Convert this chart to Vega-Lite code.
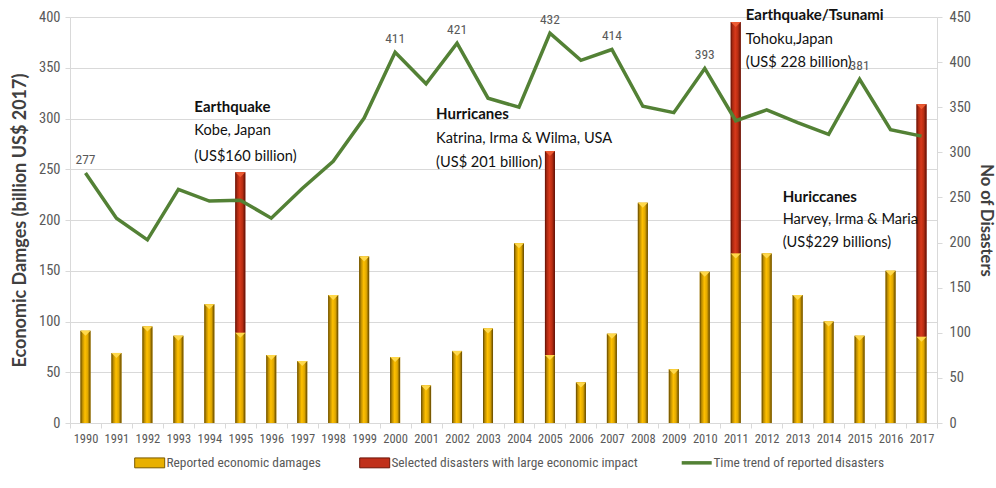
{
  "$schema": "https://vega.github.io/schema/vega-lite/v6.json",
  "width": 867,
  "height": 406,
  "autosize": {"type": "none"},
  "padding": {"left": 70, "top": 17, "right": 59, "bottom": 65},
  "background": "white",
  "config": {"view": {"stroke": null}, "font": "Liberation Sans"},
  "datasets": {
    "main": [
      {"year": "1990", "reported": 91, "disasters": 277},
      {"year": "1991", "reported": 69, "disasters": 227},
      {"year": "1992", "reported": 95, "disasters": 203},
      {"year": "1993", "reported": 86, "disasters": 259},
      {"year": "1994", "reported": 117, "disasters": 246},
      {"year": "1995", "reported": 89, "selected": 158, "disasters": 247},
      {"year": "1996", "reported": 67, "disasters": 227},
      {"year": "1997", "reported": 61, "disasters": 260},
      {"year": "1998", "reported": 126, "disasters": 290},
      {"year": "1999", "reported": 164, "disasters": 338},
      {"year": "2000", "reported": 65, "disasters": 411},
      {"year": "2001", "reported": 37, "disasters": 376},
      {"year": "2002", "reported": 71, "disasters": 421},
      {"year": "2003", "reported": 93, "disasters": 360},
      {"year": "2004", "reported": 177, "disasters": 350},
      {"year": "2005", "reported": 67, "selected": 201, "disasters": 432},
      {"year": "2006", "reported": 40, "disasters": 402},
      {"year": "2007", "reported": 88, "disasters": 414},
      {"year": "2008", "reported": 217, "disasters": 351},
      {"year": "2009", "reported": 53, "disasters": 344},
      {"year": "2010", "reported": 149, "disasters": 393},
      {"year": "2011", "reported": 167, "selected": 228, "disasters": 335},
      {"year": "2012", "reported": 167, "disasters": 347},
      {"year": "2013", "reported": 126, "disasters": 333},
      {"year": "2014", "reported": 100, "disasters": 320},
      {"year": "2015", "reported": 86, "disasters": 381},
      {"year": "2016", "reported": 150, "disasters": 325},
      {"year": "2017", "reported": 85, "selected": 229, "disasters": 318}
    ],
    "notes": [
      {"year": "1994", "value": 311, "text": "Earthquake", "kind": "title"},
      {"year": "1994", "value": 288, "text": "Kobe, Japan", "kind": "body"},
      {"year": "1994", "value": 262, "text": " (US$160 billion)", "kind": "body"},
      {"year": "2001", "value": 304, "text": "Hurricanes", "kind": "title"},
      {"year": "2001", "value": 280, "text": "Katrina, Irma & Wilma, USA", "kind": "body"},
      {"year": "2001", "value": 256, "text": "(US$ 201 billion)", "kind": "body"},
      {"year": "2011", "value": 402, "text": "Earthquake/Tsunami", "kind": "title"},
      {"year": "2011", "value": 377, "text": "Tohoku,Japan", "kind": "body"},
      {"year": "2011", "value": 355, "text": "(US$ 228 billion)", "kind": "body"},
      {"year": "2013", "value": 223, "text": "Huriccanes", "kind": "title"},
      {"year": "2013", "value": 200, "text": "Harvey, Irma & Maria", "kind": "body"},
      {"year": "2013", "value": 177, "text": " (US$229 billions)", "kind": "body"}
    ]
  },
  "layer": [
    {
      "layer": [
        {
          "data": {"name": "main"},
          "transform": [
            {"fold": ["reported", "selected"], "as": ["series", "damage"]},
            {"filter": "datum.damage != null"},
            {"stack": "damage", "groupby": ["year"], "sort": [{"field": "series", "order": "ascending"}], "as": ["d0", "d1"]}
          ],
          "layer": [
            {
              "mark": {"type": "bar", "size": 10},
              "encoding": {
                "x": {
                  "field": "year", "type": "ordinal",
                  "scale": {"paddingInner": 0, "paddingOuter": 0},
                  "axis": {
                    "title": null, "labelAngle": 0, "tickBand": "extent",
                    "labelFont": "Roboto Condensed, DejaVu Sans Condensed, sans-serif", "labelFontSize": 12.5, "labelColor": "#595959",
                    "domainColor": "#d9d9d9", "tickColor": "#d9d9d9", "tickSize": 5, "labelPadding": 4
                  }
                },
                "y": {
                  "field": "d1", "type": "quantitative",
                  "scale": {"domain": [0, 400]},
                  "axis": {
                    "title": "Economic Damges (billion US$ 2017)",
                    "values": [0, 50, 100, 150, 200, 250, 300, 350, 400],
                    "grid": true, "gridColor": "#d9d9d9", "domainColor": "#d9d9d9", "tickColor": "#d9d9d9", "tickSize": 5,
                    "labelFont": "Roboto Condensed, DejaVu Sans Condensed, sans-serif", "labelFontSize": 14.5, "labelColor": "#595959", "labelPadding": 5,
                    "titleFont": "Lato", "titleFontSize": 18, "titleFontWeight": "bold", "titleColor": "#404040", "titlePadding": 9
                  }
                },
                "y2": {"field": "d0"},
                "color": {
                  "field": "series", "type": "nominal",
                  "scale": {"domain": ["reported", "selected", "trend"], "range": ["#e8b000", "#c0301a", "#538135"]},
                  "legend": {
                    "orient": "none", "legendX": 73, "legendY": 439, "direction": "horizontal", "title": null,
                    "symbolSize": 900, "labelOffset": 10, "columnPadding": 36, "labelLimit": 400,
                    "labelFont": "Roboto Condensed, DejaVu Sans Condensed, sans-serif", "labelFontSize": 13.4, "labelColor": "#595959",
                    "labelExpr": "datum.value === 'reported' ? 'Reported economic damages' : datum.value === 'selected' ? 'Selected disasters with large economic impact' : 'Time trend of reported disasters'",
                    "encode": {
                      "symbols": {
                        "update": {
                          "shape": {"signal": "datum.value === 'trend' ? 'M-1,0H1' : 'M-1,-0.33H1V0.33H-1Z'"},
                          "fill": {"signal": "datum.value === 'trend' ? 'transparent' : (datum.value === 'reported' ? '#e8b000' : '#c0301a')"},
                          "stroke": {"signal": "datum.value === 'trend' ? '#538135' : (datum.value === 'reported' ? '#7a5a00' : '#6b1508')"},
                          "strokeWidth": {"signal": "datum.value === 'trend' ? 3.5 : 1"},
                          "opacity": {"value": 1}
                        }
                      }
                    }
                  }
                }
              }
            },
            {
              "transform": [{"filter": "datum.series === 'reported'"}],
              "mark": {
                "type": "bar", "size": 10,
                "fill": {"gradient": "linear", "x1": 0, "y1": 0, "x2": 1, "y2": 0,
                  "stops": [
                    {"offset": 0, "color": "#5e4400"}, {"offset": 0.18, "color": "#b88a00"},
                    {"offset": 0.45, "color": "#ffc000"}, {"offset": 0.72, "color": "#e0a800"},
                    {"offset": 1, "color": "#5e4400"}]}
              },
              "encoding": {
                "x": {"field": "year", "type": "ordinal"},
                "y": {"field": "d1", "type": "quantitative"},
                "y2": {"field": "d0"}
              }
            },
            {
              "transform": [{"filter": "datum.series === 'selected'"}],
              "mark": {
                "type": "bar", "size": 10,
                "fill": {"gradient": "linear", "x1": 0, "y1": 0, "x2": 1, "y2": 0,
                  "stops": [
                    {"offset": 0, "color": "#5a1006"}, {"offset": 0.18, "color": "#a82810"},
                    {"offset": 0.45, "color": "#d8391b"}, {"offset": 0.72, "color": "#b82d12"},
                    {"offset": 1, "color": "#5a1006"}]}
              },
              "encoding": {
                "x": {"field": "year", "type": "ordinal"},
                "y": {"field": "d1", "type": "quantitative"},
                "y2": {"field": "d0"}
              }
            },
            {
              "transform": [{"filter": "datum.series === 'reported'"}],
              "mark": {"type": "point", "shape": "M-1,0L1,0L0,1Z", "size": 100, "filled": true, "color": "#ffd84a", "opacity": 1},
              "encoding": {
                "x": {"field": "year", "type": "ordinal"},
                "y": {"field": "d1", "type": "quantitative"}
              }
            },
            {
              "transform": [{"filter": "datum.series === 'selected'"}],
              "mark": {"type": "point", "shape": "M-1,0L1,0L0,1Z", "size": 100, "filled": true, "color": "#ec5a32", "opacity": 1},
              "encoding": {
                "x": {"field": "year", "type": "ordinal"},
                "y": {"field": "d1", "type": "quantitative"}
              }
            }
          ]
        },
        {
          "data": {"name": "notes"},
          "transform": [{"filter": "datum.kind === 'title' && (datum.year === '1994' || datum.year === '2013')"}],
          "mark": {"type": "text", "align": "left", "baseline": "middle", "dx": -15, "font": "Lato", "fontSize": 15, "fontWeight": "bold", "color": "#111111"},
          "encoding": {
            "x": {"field": "year", "type": "ordinal"},
            "y": {"field": "value", "type": "quantitative"},
            "text": {"field": "text"}
          }
        },
        {
          "data": {"name": "notes"},
          "transform": [{"filter": "datum.kind === 'body' && (datum.year === '1994' || datum.year === '2013')"}],
          "mark": {"type": "text", "align": "left", "baseline": "middle", "dx": -15, "font": "Lato", "fontSize": 14.6, "color": "#111111"},
          "encoding": {
            "x": {"field": "year", "type": "ordinal"},
            "y": {"field": "value", "type": "quantitative"},
            "text": {"field": "text"}
          }
        },
        {
          "data": {"name": "notes"},
          "transform": [{"filter": "datum.kind === 'title' && (datum.year === '2001' || datum.year === '2011')"}],
          "mark": {"type": "text", "align": "left", "baseline": "middle", "dx": 10, "font": "Lato", "fontSize": 15, "fontWeight": "bold", "color": "#111111"},
          "encoding": {
            "x": {"field": "year", "type": "ordinal"},
            "y": {"field": "value", "type": "quantitative"},
            "text": {"field": "text"}
          }
        },
        {
          "data": {"name": "notes"},
          "transform": [{"filter": "datum.kind === 'body' && (datum.year === '2001' || datum.year === '2011')"}],
          "mark": {"type": "text", "align": "left", "baseline": "middle", "dx": 10, "font": "Lato", "fontSize": 14.6, "color": "#111111"},
          "encoding": {
            "x": {"field": "year", "type": "ordinal"},
            "y": {"field": "value", "type": "quantitative"},
            "text": {"field": "text"}
          }
        }
      ]
    },
    {
      "data": {"name": "main"},
      "layer": [
        {
          "mark": {"type": "line", "color": "#538135", "strokeWidth": 3.5},
          "encoding": {
            "x": {"field": "year", "type": "ordinal"},
            "y": {
              "field": "disasters", "type": "quantitative",
              "scale": {"domain": [0, 450]},
              "axis": {
                "orient": "right", "title": "No of Disasters",
                "values": [0, 50, 100, 150, 200, 250, 300, 350, 400, 450],
                "grid": false, "domainColor": "#d9d9d9", "tickColor": "#d9d9d9", "tickSize": 5,
                "labelFont": "Roboto Condensed, DejaVu Sans Condensed, sans-serif", "labelFontSize": 14.5, "labelColor": "#595959", "labelPadding": 7,
                "titleFont": "Lato", "titleFontSize": 16.5, "titleFontWeight": "bold", "titleColor": "#404040", "titlePadding": 7
              }
            }
          }
        },
        {
          "transform": [{"filter": {"field": "year", "oneOf": ["1990", "2000", "2002", "2005", "2007", "2010", "2015"]}}],
          "mark": {"type": "text", "dy": -13, "font": "Roboto Condensed, DejaVu Sans Condensed, sans-serif", "fontSize": 13.5, "color": "#595959"},
          "encoding": {
            "x": {"field": "year", "type": "ordinal"},
            "y": {"field": "disasters", "type": "quantitative"},
            "text": {"field": "disasters"}
          }
        }
      ]
    }
  ],
  "resolve": {"scale": {"y": "independent"}}
}
